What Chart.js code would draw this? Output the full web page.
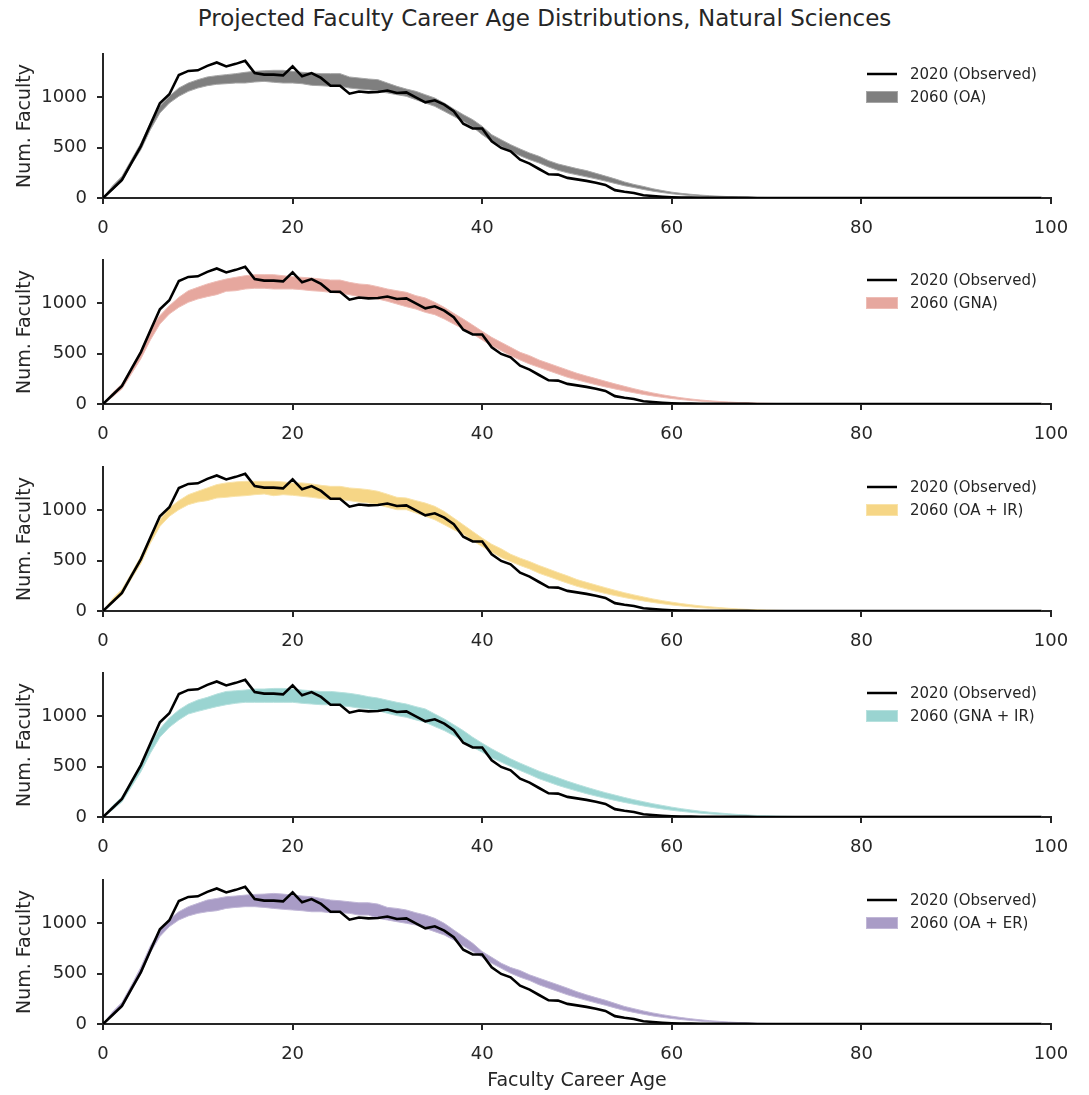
<!DOCTYPE html>
<html>
<head>
<meta charset="utf-8">
<script src="https://cdn.jsdelivr.net/npm/chart.js@4/dist/chart.umd.min.js"></script>
<style>
  html, body { margin: 0; padding: 0; background: #ffffff; overflow: hidden; }
  body { width: 1089px; height: 1095px; position: relative; font-family: "DejaVu Sans", sans-serif; }
  #title { position: absolute; left: 0; width: 1089px; top: 5px; text-align: center; font-size: 23px; color: #262626; }
  .pane { position: absolute; left: 0; width: 1089px; }
</style>
</head>
<body>
<div id="title">Projected Faculty Career Age Distributions, Natural Sciences</div>
<div class="pane" style="top:44px;height:196px"><canvas id="c0"></canvas></div>
<div class="pane" style="top:250px;height:196px"><canvas id="c1"></canvas></div>
<div class="pane" style="top:457px;height:196px"><canvas id="c2"></canvas></div>
<div class="pane" style="top:663px;height:196px"><canvas id="c3"></canvas></div>
<div class="pane" style="top:870px;height:222px"><canvas id="c4"></canvas></div>
<script>
// ---- categories ----
const ages = [0,1,2,3,4,5,6,7,8,9,10,11,12,13,14,15,16,17,18,19,20,21,22,23,24,25,26,27,28,29,30,31,32,33,34,35,36,37,38,39,40,41,42,43,44,45,46,47,48,49,50,51,52,53,54,55,56,57,58,59,60,61,62,63,64,65,66,67,68,69,70,71,72,73,74,75,76,77,78,79,80,81,82,83,84,85,86,87,88,89,90,91,92,93,94,95,96,97,98,99];
const xTicks = [0, 20, 40, 60, 80, 100];
const yTicks = [0, 500, 1000];
const scenarioNames = ["2060 (OA)", "2060 (GNA)", "2060 (OA + IR)", "2060 (GNA + IR)", "2060 (OA + ER)"];
const observedName = "2020 (Observed)";

// ---- 2020 observed ----
const observed = [0,90,180,350,515,730,940,1030,1222,1262,1268,1312,1346,1307,1332,1362,1240,1225,1225,1218,1308,1208,1240,1192,1115,1115,1036,1058,1049,1053,1067,1043,1049,1000,950,970,927,861,738,690,690,563,497,463,381,341,288,235,232,200,185,170,152,130,78,62,50,28,20,13,8,5,4,3,2,2,1,1,1,0,0,0,0,0,0,0,0,0,0,0,0,0,0,0,0,0,0,0,0,0,0,0,0,0,0,0,0,0,0,0];

// ---- 2060 projections: band lower / upper ----
const oaLow = [0,80,165,330,480,679,844,943,1010,1059,1092,1115,1129,1135,1142,1142,1152,1158,1149,1142,1142,1135,1119,1115,1109,1109,1092,1082,1076,1059,1043,1026,1010,976,943,910,861,811,761,705,629,563,513,463,420,381,348,308,275,250,230,210,190,168,145,122,104,85,68,54,42,32,24,18,14,10,8,6,4,3,2,2,1,1,1,0,0,0,0,0,0,0,0,0,0,0,0,0,0,0,0,0,0,0,0,0,0,0,0,0];
const oaHigh = [0,120,215,380,546,745,910,1010,1092,1142,1175,1202,1215,1225,1235,1248,1258,1264,1268,1268,1258,1248,1241,1235,1235,1235,1202,1192,1182,1175,1142,1109,1082,1059,1026,993,943,884,828,778,712,629,579,530,487,447,414,371,338,315,292,272,245,218,190,160,135,115,92,74,58,46,37,29,23,18,14,11,8,6,5,4,3,2,2,1,1,0,0,0,0,0,0,0,0,0,0,0,0,0,0,0,0,0,0,0,0,0,0,0];

const gnaLow = [0,70,150,300,450,636,794,894,960,1010,1043,1066,1086,1119,1125,1142,1149,1149,1142,1142,1142,1135,1125,1119,1109,1099,1086,1066,1059,1043,1020,993,966,943,910,887,844,794,745,695,636,579,530,480,437,397,364,331,298,265,240,215,192,170,150,130,112,95,80,66,54,44,35,28,22,17,13,10,7,5,4,3,2,1,1,1,0,0,0,0,0,0,0,0,0,0,0,0,0,0,0,0,0,0,0,0,0,0,0,0];
const gnaHigh = [0,110,200,360,530,745,877,976,1059,1125,1159,1192,1218,1241,1258,1274,1284,1284,1284,1274,1264,1258,1251,1241,1231,1231,1208,1192,1185,1165,1142,1125,1109,1076,1053,1010,960,900,844,784,722,662,612,563,513,480,437,404,371,338,305,278,252,226,200,176,152,130,110,92,76,62,50,40,32,25,20,15,12,9,7,5,4,3,2,2,1,1,0,0,0,0,0,0,0,0,0,0,0,0,0,0,0,0,0,0,0,0,0,0];

const oaIrLow = [0,80,160,320,470,674,840,940,1006,1056,1082,1096,1122,1129,1139,1145,1155,1162,1145,1155,1149,1139,1129,1116,1106,1106,1096,1082,1072,1056,1030,1006,1006,973,940,906,857,807,764,697,641,584,531,491,452,418,375,342,309,276,245,220,196,174,153,134,116,100,85,72,60,50,41,33,27,21,16,12,9,7,5,4,3,2,1,1,1,0,0,0,0,0,0,0,0,0,0,0,0,0,0,0,0,0,0,0,0,0,0,0];
const oaIrHigh = [0,120,215,375,545,740,906,1023,1096,1155,1189,1222,1255,1272,1282,1288,1288,1288,1288,1282,1272,1272,1262,1248,1238,1238,1222,1215,1205,1189,1160,1129,1122,1096,1072,1039,989,923,857,790,724,664,618,564,525,491,452,418,382,349,312,285,258,232,206,182,160,140,120,103,88,74,62,51,42,34,27,21,16,12,9,7,5,4,3,2,2,1,1,0,0,0,0,0,0,0,0,0,0,0,0,0,0,0,0,0,0,0,0,0];

const gnaIrLow = [0,70,150,300,450,634,792,891,964,1023,1049,1073,1096,1115,1129,1139,1139,1139,1139,1139,1139,1129,1122,1115,1115,1106,1096,1082,1073,1056,1030,1007,990,964,941,898,858,809,752,693,644,587,545,502,462,422,380,347,314,285,258,232,208,186,165,145,127,110,94,80,67,56,46,38,31,25,20,15,12,9,7,5,4,3,2,1,1,1,0,0,0,0,0,0,0,0,0,0,0,0,0,0,0,0,0,0,0,0,0,0];
const gnaIrHigh = [0,110,200,360,530,726,875,983,1063,1122,1162,1188,1221,1247,1254,1261,1271,1271,1277,1277,1271,1261,1254,1247,1247,1238,1228,1214,1195,1181,1160,1139,1122,1096,1073,1023,974,917,858,792,733,677,627,578,535,495,455,422,389,356,325,296,268,242,218,194,172,152,132,115,98,83,70,58,48,40,32,25,20,15,12,9,7,5,4,3,2,2,1,1,0,0,0,0,0,0,0,0,0,0,0,0,0,0,0,0,0,0,0,0];

const oaErLow = [0,80,165,330,500,710,868,967,1033,1073,1099,1115,1125,1148,1158,1165,1165,1158,1148,1139,1132,1125,1115,1115,1105,1105,1099,1082,1082,1050,1033,1016,1000,983,950,917,884,835,776,719,663,604,554,505,465,432,389,356,323,290,262,235,210,186,160,135,115,97,80,66,54,44,35,28,22,17,13,10,7,5,4,3,2,1,1,1,0,0,0,0,0,0,0,0,0,0,0,0,0,0,0,0,0,0,0,0,0,0,0,0];
const oaErHigh = [0,120,215,385,565,776,934,1040,1115,1165,1198,1231,1247,1264,1271,1280,1287,1290,1297,1290,1280,1271,1264,1247,1231,1224,1214,1204,1204,1191,1158,1148,1132,1105,1082,1049,1000,934,868,802,719,663,604,561,531,488,455,422,389,356,320,290,262,236,205,175,152,130,110,93,78,64,52,42,33,26,20,15,11,8,6,5,4,3,2,2,1,1,0,0,0,0,0,0,0,0,0,0,0,0,0,0,0,0,0,0,0,0,0,0];

// ---- styling (not data) ----
const bandFill = ['#7f7f7f', '#e6a79e', '#f6d686', '#9ad4d1', '#a99cc6'];
const bandEdge = ['#a6a6a6', '#eebdb6', '#f9e3a9', '#b7e1de', '#c1b7d7'];
const bands = [[oaLow, oaHigh], [gnaLow, gnaHigh], [oaIrLow, oaIrHigh], [gnaIrLow, gnaIrHigh], [oaErLow, oaErHigh]];
const INK = '#262626';
const FONT = 'DejaVu Sans';

function pts(arr) { return ages.map((a, i) => ({ x: a, y: arr[i] })); }

const legendPlugin = {
  id: 'insideLegend',
  afterDatasetsDraw(chart, args, opts) {
    const { ctx, chartArea } = chart;
    const x0 = chartArea.right - 184;
    const y1 = chartArea.top + 20;
    const y2 = chartArea.top + 43;
    ctx.save();
    ctx.strokeStyle = '#000000';
    ctx.lineWidth = 2.5;
    ctx.beginPath();
    ctx.moveTo(x0, y1);
    ctx.lineTo(x0 + 30, y1);
    ctx.stroke();
    ctx.fillStyle = opts.fill;
    ctx.fillRect(x0 - 1, y2 - 6, 32, 12);
    ctx.strokeStyle = opts.edge;
    ctx.lineWidth = 1;
    ctx.strokeRect(x0 - 0.5, y2 - 5.5, 31, 11);
    ctx.fillStyle = INK;
    ctx.font = '15px "' + FONT + '"';
    ctx.textBaseline = 'middle';
    ctx.textAlign = 'left';
    ctx.fillText(observedName, x0 + 43, y1 + 1);
    ctx.fillText(opts.label, x0 + 43, y2 + 1);
    ctx.restore();
  }
};

function makeChart(idx) {
  const isLast = idx === 4;
  const [low, high] = bands[idx];
  return new Chart(document.getElementById('c' + idx), {
    type: 'line',
    data: {
      datasets: [
        { label: observedName, data: pts(observed), borderColor: '#000000', borderWidth: 2.6,
          pointRadius: 0, fill: false, tension: 0 },
        { label: scenarioNames[idx] + ' low', data: pts(low), borderColor: bandEdge[idx], borderWidth: 1,
          pointRadius: 0, fill: false, tension: 0 },
        { label: scenarioNames[idx], data: pts(high), borderColor: bandEdge[idx], borderWidth: 1,
          backgroundColor: bandFill[idx], pointRadius: 0, fill: '-1', tension: 0 }
      ]
    },
    options: {
      responsive: true,
      maintainAspectRatio: false,
      animation: false,
      events: [],
      layout: { padding: { top: 10, right: 38, left: 0, bottom: 0 } },
      plugins: {
        legend: { display: false },
        tooltip: { enabled: false },
        insideLegend: { fill: bandFill[idx], edge: bandEdge[idx], label: scenarioNames[idx] }
      },
      scales: {
        x: {
          type: 'linear', min: 0, max: 100,
          afterBuildTicks: (s) => { s.ticks = xTicks.map(v => ({ value: v })); },
          afterFit: (s) => { s.height = isLast ? 68 : 42; s.paddingLeft = 0; s.paddingRight = 0; },
          grid: { display: true, drawOnChartArea: false, drawTicks: true, tickLength: 6, lineWidth: 2, color: INK },
          border: { display: true, color: INK, width: 2 },
          ticks: { color: INK, font: { family: FONT, size: 18 }, padding: 14, maxRotation: 0,
                   callback: (v) => String(v) },
          title: { display: isLast, text: 'Faculty Career Age', color: INK, font: { family: FONT, size: 19 }, padding: 0 }
        },
        y: {
          type: 'linear', min: 0, max: 1430,
          afterBuildTicks: (s) => { s.ticks = yTicks.map(v => ({ value: v })); },
          afterFit: (s) => { s.width = 103; s.paddingTop = 0; s.paddingBottom = 0; },
          grid: { display: true, drawOnChartArea: false, drawTicks: true, tickLength: 6, lineWidth: 2, color: INK },
          border: { display: true, color: INK, width: 2 },
          ticks: { color: INK, font: { family: FONT, size: 18 }, padding: 10, callback: (v) => String(v) },
          title: { display: true, text: 'Num. Faculty', color: INK, font: { family: FONT, size: 19 }, padding: { top: 14 } }
        }
      }
    },
    plugins: [legendPlugin]
  });
}

for (let i = 0; i < 5; i++) makeChart(i);
</script>
</body>
</html>
